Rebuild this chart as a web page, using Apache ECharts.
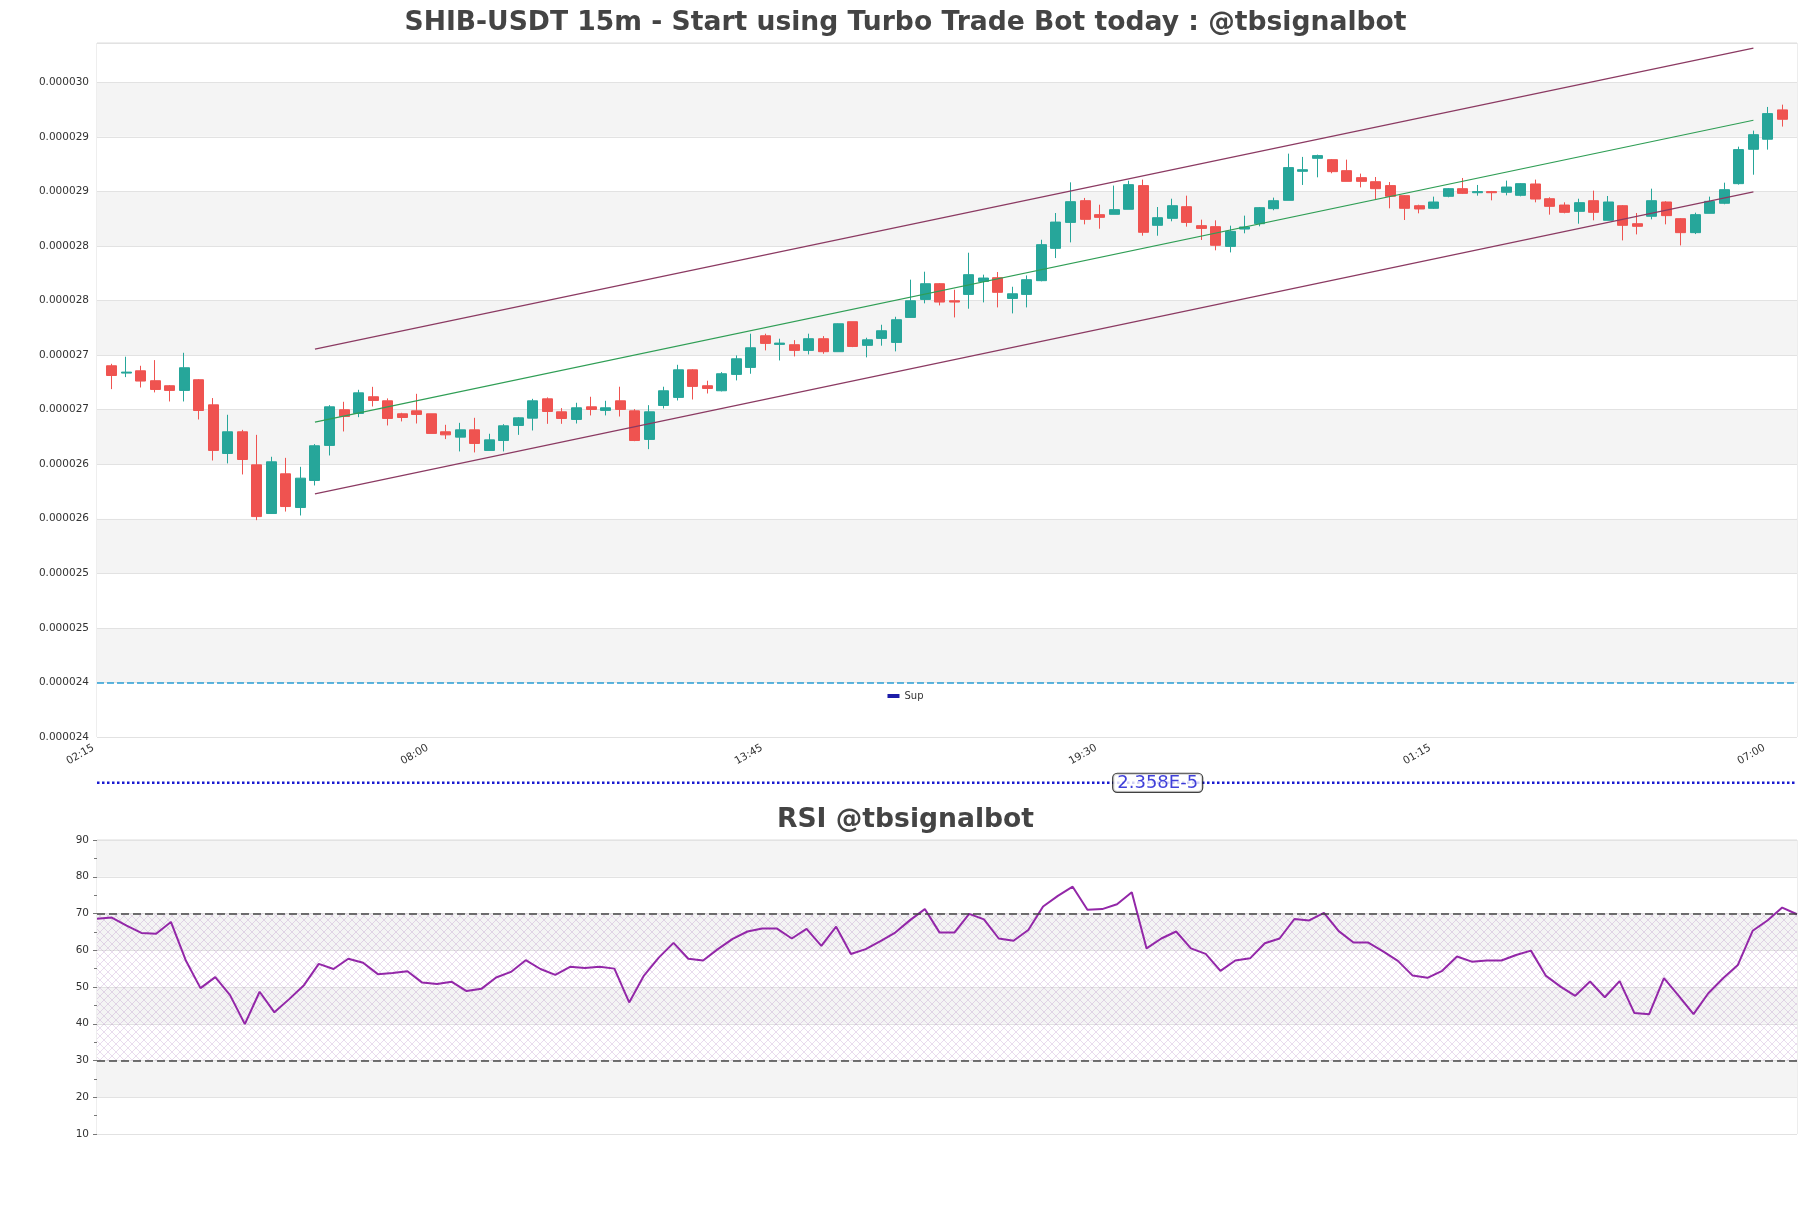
<!DOCTYPE html>
<html>
<head>
<meta charset="utf-8">
<title>SHIB-USDT 15m</title>
<script src="https://cdn.jsdelivr.net/npm/echarts@6.0.0/dist/echarts.min.js"></script>
<style>
  html, body { margin: 0; padding: 0; background: #fff; }
  #chart { width: 1811px; height: 1208px; }
</style>
</head>
<body>
<div id="chart"></div>
<script>
// 15m candles, axis starts at 02:15
const startTime = '02:15'
const slotCount = 118

const open = [
  2.7402e-5, 2.7335e-5, 2.7356e-5, 2.7265e-5, 2.7219e-5, 2.7176e-5, 2.7274e-5, 2.7044e-5, 2.6598e-5, 2.6797e-5,
  2.6494e-5, 2.6048e-5, 2.6412e-5, 2.6103e-5, 2.6351e-5, 2.6672e-5, 2.6999e-5, 2.6965e-5, 2.7118e-5, 2.7081e-5,
  2.6962e-5, 2.6989e-5, 2.6962e-5, 2.6797e-5, 2.6748e-5, 2.6815e-5, 2.6626e-5, 2.6717e-5, 2.6855e-5, 2.6922e-5,
  2.7099e-5, 2.6980e-5, 2.6910e-5, 2.7026e-5, 2.6993e-5, 2.7081e-5, 2.6989e-5, 2.6727e-5, 2.7038e-5, 2.7112e-5,
  2.7365e-5, 2.7219e-5, 2.7173e-5, 2.7323e-5, 2.7387e-5, 2.7677e-5, 2.7598e-5, 2.7595e-5, 2.7543e-5, 2.7650e-5,
  2.7531e-5, 2.7806e-5, 2.7589e-5, 2.7653e-5, 2.7616e-5, 2.7845e-5, 2.8010e-5, 2.8154e-5, 2.7998e-5, 2.8056e-5,
  2.8175e-5, 2.8209e-5, 2.8019e-5, 2.8056e-5, 2.8182e-5, 2.8478e-5, 2.8716e-5, 2.8915e-5, 2.8787e-5, 2.8790e-5,
  2.8836e-5, 2.9053e-5, 2.8689e-5, 2.8753e-5, 2.8860e-5, 2.8686e-5, 2.8677e-5, 2.8496e-5, 2.8655e-5, 2.8704e-5,
  2.8842e-5, 2.8918e-5, 2.9184e-5, 2.9303e-5, 2.9291e-5, 2.9190e-5, 2.9126e-5, 2.9089e-5, 2.9053e-5, 2.8961e-5,
  2.8869e-5, 2.8845e-5, 2.8955e-5, 2.9025e-5, 2.8988e-5, 2.8998e-5, 2.8992e-5, 2.8964e-5, 2.9068e-5, 2.8933e-5,
  2.8875e-5, 2.8817e-5, 2.8915e-5, 2.8735e-5, 2.8869e-5, 2.8704e-5, 2.8772e-5, 2.8903e-5, 2.8750e-5, 2.8622e-5,
  2.8799e-5, 2.8891e-5, 2.9071e-5, 2.9386e-5, 2.9478e-5, 2.9747e-5
]
const close = [
  2.7313e-5, 2.7344e-5, 2.7262e-5, 2.7185e-5, 2.7176e-5, 2.7384e-5, 2.6992e-5, 2.6626e-5, 2.6797e-5, 2.6543e-5,
  2.6020e-5, 2.6522e-5, 2.6112e-5, 2.6372e-5, 2.6669e-5, 2.7026e-5, 2.6937e-5, 2.7154e-5, 2.7084e-5, 2.6919e-5,
  2.6928e-5, 2.6956e-5, 2.6782e-5, 2.6769e-5, 2.6815e-5, 2.6690e-5, 2.6723e-5, 2.6852e-5, 2.6925e-5, 2.7081e-5,
  2.6983e-5, 2.6919e-5, 2.7017e-5, 2.7002e-5, 2.7017e-5, 2.7002e-5, 2.6717e-5, 2.6980e-5, 2.7173e-5, 2.7365e-5,
  2.7213e-5, 2.7194e-5, 2.7329e-5, 2.7466e-5, 2.7567e-5, 2.7607e-5, 2.7610e-5, 2.7543e-5, 2.7650e-5, 2.7531e-5,
  2.7787e-5, 2.7579e-5, 2.7640e-5, 2.7723e-5, 2.7824e-5, 2.7998e-5, 2.8154e-5, 2.7986e-5, 2.7986e-5, 2.8237e-5,
  2.8206e-5, 2.8075e-5, 2.8062e-5, 2.8191e-5, 2.8512e-5, 2.8719e-5, 2.8906e-5, 2.8744e-5, 2.8762e-5, 2.8833e-5,
  2.9062e-5, 2.8625e-5, 2.8759e-5, 2.8869e-5, 2.8716e-5, 2.8661e-5, 2.8506e-5, 2.8634e-5, 2.8674e-5, 2.8851e-5,
  2.8915e-5, 2.9218e-5, 2.9199e-5, 2.9328e-5, 2.9181e-5, 2.9092e-5, 2.9092e-5, 2.9025e-5, 2.8955e-5, 2.8845e-5,
  2.8839e-5, 2.8903e-5, 2.9025e-5, 2.8982e-5, 2.8998e-5, 2.8988e-5, 2.9040e-5, 2.9071e-5, 2.8930e-5, 2.8863e-5,
  2.8808e-5, 2.8897e-5, 2.8808e-5, 2.8903e-5, 2.8689e-5, 2.8680e-5, 2.8915e-5, 2.8778e-5, 2.8622e-5, 2.8787e-5,
  2.8909e-5, 2.9016e-5, 2.9383e-5, 2.9520e-5, 2.9713e-5, 2.9661e-5
]
const low = [
  2.7188e-5, 2.7298e-5, 2.7203e-5, 2.7158e-5, 2.7075e-5, 2.7075e-5, 2.6910e-5, 2.6534e-5, 2.6507e-5, 2.6406e-5,
  2.5987e-5, 2.6045e-5, 2.6066e-5, 2.6030e-5, 2.6305e-5, 2.6580e-5, 2.6800e-5, 2.6931e-5, 2.7029e-5, 2.6855e-5,
  2.6892e-5, 2.6873e-5, 2.6782e-5, 2.6730e-5, 2.6617e-5, 2.6608e-5, 2.6626e-5, 2.6617e-5, 2.6769e-5, 2.6809e-5,
  2.6870e-5, 2.6870e-5, 2.6873e-5, 2.6947e-5, 2.6947e-5, 2.6937e-5, 2.6711e-5, 2.6638e-5, 2.7011e-5, 2.7084e-5,
  2.7093e-5, 2.7148e-5, 2.7167e-5, 2.7268e-5, 2.7329e-5, 2.7543e-5, 2.7451e-5, 2.7488e-5, 2.7506e-5, 2.7512e-5,
  2.7531e-5, 2.7573e-5, 2.7479e-5, 2.7586e-5, 2.7534e-5, 2.7842e-5, 2.7974e-5, 2.7955e-5, 2.7845e-5, 2.7925e-5,
  2.7983e-5, 2.7937e-5, 2.7882e-5, 2.7937e-5, 2.8176e-5, 2.8389e-5, 2.8533e-5, 2.8698e-5, 2.8658e-5, 2.8790e-5,
  2.8836e-5, 2.8594e-5, 2.8594e-5, 2.8726e-5, 2.8677e-5, 2.8555e-5, 2.8460e-5, 2.8441e-5, 2.8616e-5, 2.8680e-5,
  2.8827e-5, 2.8918e-5, 2.9059e-5, 2.9129e-5, 2.9166e-5, 2.9092e-5, 2.9037e-5, 2.8921e-5, 2.8845e-5, 2.8738e-5,
  2.8799e-5, 2.8839e-5, 2.8946e-5, 2.8976e-5, 2.8961e-5, 2.8918e-5, 2.8964e-5, 2.8955e-5, 2.8900e-5, 2.8787e-5,
  2.8799e-5, 2.8704e-5, 2.8735e-5, 2.8735e-5, 2.8551e-5, 2.8606e-5, 2.8744e-5, 2.8698e-5, 2.8505e-5, 2.8609e-5,
  2.8799e-5, 2.8882e-5, 2.9062e-5, 2.9153e-5, 2.9383e-5, 2.9594e-5
]
const high = [
  2.7420e-5, 2.7485e-5, 2.7402e-5, 2.7454e-5, 2.7225e-5, 2.7521e-5, 2.7280e-5, 2.7106e-5, 2.6953e-5, 2.6815e-5,
  2.6769e-5, 2.6568e-5, 2.6558e-5, 2.6476e-5, 2.6684e-5, 2.7041e-5, 2.7072e-5, 2.7182e-5, 2.7209e-5, 2.7103e-5,
  2.6971e-5, 2.7145e-5, 2.6962e-5, 2.6861e-5, 2.6879e-5, 2.6925e-5, 2.6779e-5, 2.6867e-5, 2.6931e-5, 2.7099e-5,
  2.7112e-5, 2.7014e-5, 2.7063e-5, 2.7118e-5, 2.7081e-5, 2.7210e-5, 2.7005e-5, 2.7041e-5, 2.7210e-5, 2.7411e-5,
  2.7370e-5, 2.7265e-5, 2.7344e-5, 2.7497e-5, 2.7696e-5, 2.7696e-5, 2.7650e-5, 2.7637e-5, 2.7696e-5, 2.7674e-5,
  2.7790e-5, 2.7806e-5, 2.7659e-5, 2.7778e-5, 2.7851e-5, 2.8191e-5, 2.8264e-5, 2.8160e-5, 2.8099e-5, 2.8438e-5,
  2.8237e-5, 2.8261e-5, 2.8126e-5, 2.8230e-5, 2.8557e-5, 2.8802e-5, 2.9083e-5, 2.8940e-5, 2.8878e-5, 2.9053e-5,
  2.9098e-5, 2.9108e-5, 2.8857e-5, 2.8933e-5, 2.8961e-5, 2.8741e-5, 2.8735e-5, 2.8686e-5, 2.8778e-5, 2.8857e-5,
  2.8943e-5, 2.9346e-5, 2.9316e-5, 2.9337e-5, 2.9297e-5, 2.9291e-5, 2.9163e-5, 2.9132e-5, 2.9086e-5, 2.8967e-5,
  2.8878e-5, 2.8952e-5, 2.9031e-5, 2.9123e-5, 2.9059e-5, 2.9004e-5, 2.9099e-5, 2.9077e-5, 2.9108e-5, 2.8946e-5,
  2.8900e-5, 2.8933e-5, 2.9007e-5, 2.8958e-5, 2.8875e-5, 2.8802e-5, 2.9025e-5, 2.8910e-5, 2.8756e-5, 2.8805e-5,
  2.8952e-5, 2.9080e-5, 2.9410e-5, 2.9557e-5, 2.9774e-5, 2.9795e-5
]

const rsi = [
  68.6, 68.9, 66.7, 64.7, 64.5, 67.7, 57.3, 49.7, 52.7, 47.8,
  39.9, 48.7, 43.1, 46.7, 50.5, 56.3, 54.9, 57.7, 56.6, 53.5,
  53.8, 54.3, 51.2, 50.8, 51.4, 48.9, 49.5, 52.6, 54.1, 57.3,
  54.9, 53.3, 55.5, 55.2, 55.5, 55.0, 45.8, 53.1, 58.0, 62.0,
  57.7, 57.2, 60.3, 63.1, 65.1, 65.9, 65.9, 63.2, 65.8, 61.2,
  66.4, 59.0, 60.3, 62.5, 64.8, 68.2, 71.2, 64.8, 64.8, 69.9,
  68.4, 63.2, 62.6, 65.5, 71.9, 74.8, 77.3, 71.0, 71.2, 72.5,
  75.8, 60.5, 63.2, 65.1, 60.5, 59.0, 54.4, 57.2, 57.8, 61.9,
  63.2, 68.5, 68.1, 70.2, 65.2, 62.1, 62.1, 59.7, 57.1, 53.1,
  52.5, 54.4, 58.3, 56.9, 57.2, 57.2, 58.7, 59.9, 53.1, 50.1,
  47.6, 51.5, 47.2, 51.6, 42.9, 42.6, 52.4, 47.6, 42.6, 48.3,
  52.4, 56.0, 65.3, 68.1, 71.6, 69.8
]

// regression channel (start / end category index)
const channelFrom = 15
const channelTo = 114
const upperLine = [2.7555e-5, 3.0313e-5]
const midLine = [2.6885e-5, 2.9652e-5]
const lowerLine = [2.6228e-5, 2.8995e-5]

const supportLevel = 2.45e-5
const supLevel = 2.358e-5
const supLabelAt = 73

const priceMin = 2.40e-5
const priceMax = 3.036e-5
const priceStep = 5e-7
const priceTicks = ['0.000024', '0.000024', '0.000025', '0.000025', '0.000026', '0.000026', '0.000027',
  '0.000027', '0.000028', '0.000028', '0.000029', '0.000029', '0.000030']

function buildTimes() {
  const parts = startTime.split(':')
  let m = (+parts[0]) * 60 + (+parts[1])
  const ret = []
  for (let i = 0; i < slotCount; i++) {
    const t = m % 1440
    ret.push(String(Math.floor(t / 60)).padStart(2, '0') + ':' + String(t % 60).padStart(2, '0'))
    m += 15
  }
  return ret
}

function hatch() {
  const c = document.createElement('canvas')
  c.width = 8
  c.height = 8
  const g = c.getContext('2d')
  g.strokeStyle = 'rgba(165, 110, 185, 0.35)'
  g.lineWidth = 0.7
  g.beginPath()
  g.moveTo(0, 0); g.lineTo(8, 8)
  g.moveTo(8, 0); g.lineTo(0, 8)
  g.stroke()
  return c
}

const times = buildTimes()
const rsiTimes = times.slice(1, 1 + rsi.length)
const candles = ['-'].concat(open.map((o, i) => [o, close[i], low[i], high[i]])).concat(['-'])
// the Sup level is a flat line across the whole axis
const supLine = times.map(() => supLevel)

const font = 'DejaVu Sans'
const titleStyle = { fontSize: 26.6, fontWeight: 'bold', color: '#444', fontFamily: font }

const chart = echarts.init(document.getElementById('chart'))
chart.setOption({
  animation: false,
  backgroundColor: '#fff',
  textStyle: { fontFamily: font },
  title: [
    { text: 'SHIB-USDT 15m - Start using Turbo Trade Bot today : @tbsignalbot', left: 'center', top: 10, padding: 0, textStyle: titleStyle },
    { text: 'RSI @tbsignalbot', left: 'center', top: 807, padding: 0, textStyle: titleStyle }
  ],
  legend: {
    data: ['Sup'],
    left: 'center',
    top: 691,
    padding: 0,
    icon: 'rect',
    itemWidth: 12,
    itemHeight: 4,
    itemGap: 6,
    textStyle: { fontSize: 10, color: '#333' }
  },
  grid: [
    { left: 97, right: 14, top: 43, height: 694, show: true, borderColor: '#dcdcdc', borderWidth: 1 },
    { left: 97, right: 14, top: 840, height: 294, show: true, borderColor: '#dcdcdc', borderWidth: 1 }
  ],
  xAxis: [
    {
      gridIndex: 0,
      type: 'category',
      data: times,
      boundaryGap: false,
      axisLine: { show: false },
      axisTick: { show: false },
      axisLabel: { interval: 22, rotate: 30, fontSize: 10.5, color: '#333', padding: [0, 4, 0, 0] },
      splitLine: { show: false }
    },
    {
      gridIndex: 1,
      type: 'category',
      data: rsiTimes,
      boundaryGap: false,
      show: false
    }
  ],
  yAxis: [
    {
      gridIndex: 0,
      type: 'value',
      min: priceMin,
      max: priceMax,
      interval: priceStep,
      axisLine: { show: false },
      axisTick: { show: false },
      axisLabel: {
        fontSize: 10.5,
        color: '#333',
        showMaxLabel: false,
        formatter(v) {
          const k = Math.round((v - priceMin) / priceStep)
          return priceTicks[k] || ''
        }
      },
      splitLine: { lineStyle: { color: '#e2e2e2' } },
      splitArea: { show: true, areaStyle: { color: ['#ffffff', '#f4f4f4'] } }
    },
    {
      gridIndex: 1,
      type: 'value',
      min: 10,
      max: 90,
      interval: 10,
      axisLine: { show: false },
      axisTick: { show: true, length: 4, lineStyle: { color: '#777' } },
      minorTick: { show: true, splitNumber: 2, length: 3, lineStyle: { color: '#777' } },
      minorSplitLine: { show: false },
      axisLabel: { fontSize: 10.5, color: '#333' },
      splitLine: { lineStyle: { color: '#e2e2e2' } },
      splitArea: { show: true, areaStyle: { color: ['#ffffff', '#f4f4f4'] } }
    }
  ],
  series: [
    {
      name: 'SHIB-USDT',
      type: 'candlestick',
      xAxisIndex: 0,
      yAxisIndex: 0,
      data: candles,
      barWidth: 10.5,
      itemStyle: {
        color: '#26a69a',
        color0: '#ef5350',
        borderColor: '#26a69a',
        borderColor0: '#ef5350',
        borderWidth: 1
      },
      markLine: {
        symbol: 'none',
        silent: true,
        precision: 10,
        label: { show: false },
        lineStyle: { color: '#2a9fd6', type: [7, 3], width: 1.5 },
        data: [{ yAxis: supportLevel }]
      }
    },
    {
      name: 'upper',
      type: 'line',
      data: [[channelFrom, upperLine[0]], [channelTo, upperLine[1]]],
      symbol: 'none',
      lineStyle: { color: '#8b3a62', width: 1.2 }
    },
    {
      name: 'mid',
      type: 'line',
      data: [[channelFrom, midLine[0]], [channelTo, midLine[1]]],
      symbol: 'none',
      lineStyle: { color: '#2f9e55', width: 1.2 }
    },
    {
      name: 'lower',
      type: 'line',
      data: [[channelFrom, lowerLine[0]], [channelTo, lowerLine[1]]],
      symbol: 'none',
      lineStyle: { color: '#8b3a62', width: 1.2 }
    },
    {
      name: 'Sup',
      type: 'line',
      data: supLine,
      color: '#1c1ca8',
      symbol: 'none',
      clip: false,
      silent: true,
      lineStyle: { color: '#1a1ad0', type: 'dotted', width: 2.5 }
    },
    {
      name: 'supLabel',
      type: 'scatter',
      data: [[supLabelAt, supLevel]],
      clip: false,
      symbolSize: 1,
      itemStyle: { color: 'rgba(0,0,0,0)' },
      z: 10,
      label: {
        show: true,
        position: 'inside',
        formatter: () => supLevel.toExponential(3).toUpperCase(),
        color: '#1010d0',
        fontSize: 18,
        backgroundColor: '#fff',
        borderColor: '#111',
        borderWidth: 1.2,
        borderRadius: 4,
        padding: [0, 4]
      }
    },
    {
      name: 'RSI',
      type: 'line',
      xAxisIndex: 1,
      yAxisIndex: 1,
      data: rsi,
      symbol: 'none',
      lineStyle: { color: '#9327a8', width: 2 },
      itemStyle: { color: '#9327a8' },
      markArea: {
        silent: true,
        itemStyle: { color: { image: hatch(), repeat: 'repeat' } },
        data: [[{ yAxis: 30 }, { yAxis: 70 }]]
      },
      markLine: {
        symbol: 'none',
        silent: true,
        label: { show: false },
        lineStyle: { color: '#444', type: [8, 4], width: 1.5 },
        data: [{ yAxis: 70 }, { yAxis: 30 }]
      }
    }
  ]
})
</script>
</body>
</html>
